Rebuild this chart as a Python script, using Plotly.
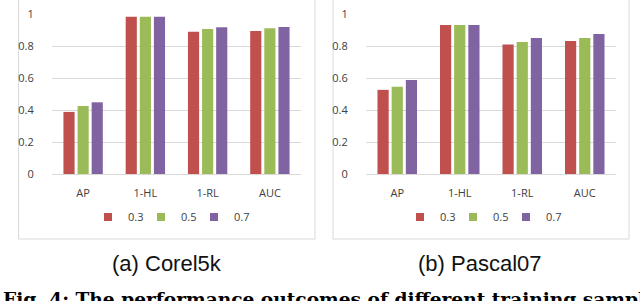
import plotly.graph_objects as go

categories = ["AP", "1-HL", "1-RL", "AUC"]
series_names = ["0.3", "0.5", "0.7"]
colors = ["#C0504D", "#9BBB59", "#8064A2"]

corel5k_03 = [0.388, 0.983, 0.889, 0.894]
corel5k_05 = [0.425, 0.983, 0.906, 0.911]
corel5k_07 = [0.448, 0.983, 0.917, 0.919]

pascal07_03 = [0.526, 0.931, 0.810, 0.832]
pascal07_05 = [0.546, 0.931, 0.825, 0.850]
pascal07_07 = [0.588, 0.931, 0.850, 0.875]

yticks = [0, 0.2, 0.4, 0.6, 0.8, 1]
yticklabels = ["0", "0.2", "0.4", "0.6", "0.8", "1"]

W, H = 640, 301

def px(x):
    return x / W

def py(y):
    return 1 - y / H

fig = go.Figure()

left = [corel5k_03, corel5k_05, corel5k_07]
right = [pascal07_03, pascal07_05, pascal07_07]

for i, name in enumerate(series_names):
    fig.add_trace(go.Bar(x=categories, y=left[i], name=name, marker_color=colors[i],
                         marker_line_width=0, xaxis="x", yaxis="y", showlegend=False))
for i, name in enumerate(series_names):
    fig.add_trace(go.Bar(x=categories, y=right[i], name=name, marker_color=colors[i],
                         marker_line_width=0, xaxis="x2", yaxis="y2", showlegend=False))
# legend entries (square swatches) for each panel
for lg, xa, ya in (("legend", "x", "y"), ("legend2", "x2", "y2")):
    for i, name in enumerate(series_names):
        fig.add_trace(go.Scatter(x=[None], y=[None], mode="markers", name=name,
                                 marker=dict(symbol="square", size=8, color=colors[i]),
                                 xaxis=xa, yaxis=ya, legend=lg, showlegend=True))
    # empty spacer entry so the last label is not clipped by the compact legend box
    fig.add_trace(go.Scatter(x=[None], y=[None], mode="markers", name=" ",
                             marker=dict(symbol="square", size=8, color="rgba(0,0,0,0)"),
                             xaxis=xa, yaxis=ya, legend=lg, showlegend=True, hoverinfo="skip"))

tickfont = dict(family="Open Sans, Liberation Sans, sans-serif", size=11, color="#404040")
ydom = [py(174), py(14)]

yax = dict(range=[0, 1], tickvals=yticks, ticktext=yticklabels, showgrid=True,
           gridcolor="#d9d9d9", gridwidth=1, zeroline=False, showline=False,
           ticks="outside", ticklen=15, tickcolor="rgba(0,0,0,0)", tickfont=tickfont,
           domain=ydom, fixedrange=True, automargin=False)
xax = dict(showline=True, linecolor="#d9d9d9", linewidth=1, ticks="outside", ticklen=9,
           tickcolor="rgba(0,0,0,0)", tickfont=tickfont, showgrid=False, fixedrange=True,
           automargin=False)

legfont = dict(family="Open Sans, Liberation Sans, sans-serif", size=11, color="#404040")

fig.update_layout(
    width=W, height=H,
    margin=dict(l=0, r=0, t=0, b=0, autoexpand=False),
    paper_bgcolor="white", plot_bgcolor="white",
    barmode="group", bargap=0.32, bargroupgap=0.21,
    xaxis=dict(domain=[px(52), px(301)], anchor="y", **xax),
    yaxis=dict(anchor="x", **yax),
    xaxis2=dict(domain=[px(366), px(616)], anchor="y2", **xax),
    yaxis2=dict(anchor="x2", **yax),
    legend=dict(orientation="h", x=px(194), xanchor="center", y=py(217), yanchor="middle",
                font=legfont, bgcolor="rgba(0,0,0,0)", entrywidth=8, itemwidth=30,
                tracegroupgap=0, itemclick=False, itemdoubleclick=False),
    legend2=dict(orientation="h", x=px(506), xanchor="center", y=py(217), yanchor="middle",
                 font=legfont, bgcolor="rgba(0,0,0,0)", entrywidth=8, itemwidth=30,
                 tracegroupgap=0, itemclick=False, itemdoubleclick=False),
    showlegend=True,
)

# chart frames
fig.add_shape(type="rect", xref="paper", yref="paper", x0=px(18.5), x1=px(315), y0=py(239), y1=py(-5),
              line=dict(color="#d9d9d9", width=1), fillcolor="rgba(0,0,0,0)", layer="below")
fig.add_shape(type="rect", xref="paper", yref="paper", x0=px(333), x1=px(629), y0=py(239), y1=py(-5),
              line=dict(color="#d9d9d9", width=1), fillcolor="rgba(0,0,0,0)", layer="below")

capfont = dict(family="Liberation Sans, Arial, sans-serif", size=22, color="#111111")
fig.add_annotation(text="(a) Corel5k", xref="paper", yref="paper", x=px(167), y=py(263),
                   xanchor="center", yanchor="middle", showarrow=False, font=capfont)
fig.add_annotation(text="(b) Pascal07", xref="paper", yref="paper", x=px(480), y=py(263),
                   xanchor="center", yanchor="middle", showarrow=False, font=capfont)
fig.add_annotation(text="<b>Fig. 4: The performance outcomes of different training samples</b>",
                   xref="paper", yref="paper", x=px(1), y=py(287), xanchor="left", yanchor="top",
                   showarrow=False,
                   font=dict(family="DejaVu Serif, Liberation Serif, serif", size=18.6, color="#000000"))

fig.write_html("out.html", config={"displayModeBar": False},
               post_script="document.body.style.margin='0';document.body.style.overflow='hidden';")
